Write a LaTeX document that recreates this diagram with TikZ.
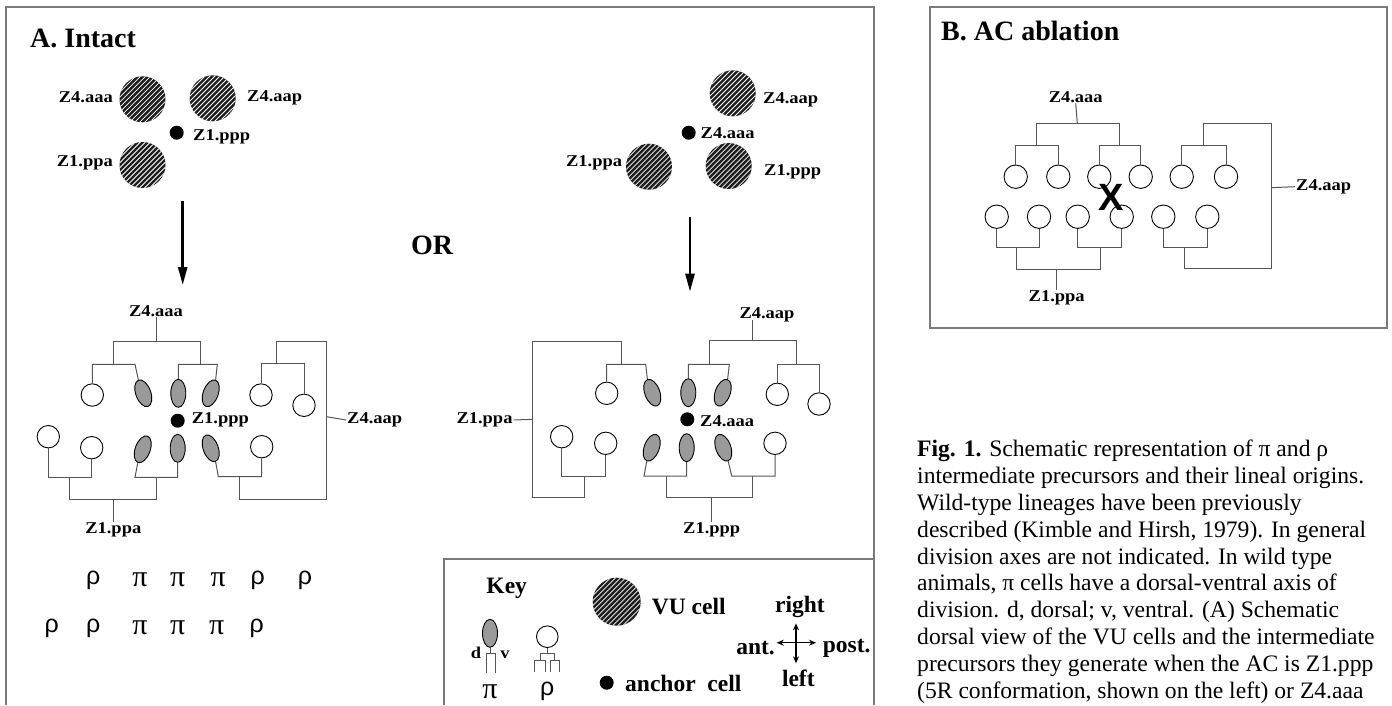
\documentclass[tikz,border=0pt]{standalone}
\usepackage{fontspec}
\setmainfont{Liberation Serif}
\setsansfont{Liberation Sans}
\newfontfamily\lblfont[FakeStretch=1.12]{Liberation Serif Bold}
\usetikzlibrary{arrows.meta,positioning,shapes.geometric}
\newcommand{\rhosym}{{\sffamily ρ}}
\newcommand{\pisym}{{\fontsize{30}{30}\selectfont π}}

\begin{document}
\begin{tikzpicture}[
		x=1pt, y=-1pt,
		>=Stealth,
		% lines
		frame/.style={draw=frameColor, line width=1.3pt},
		tree/.style={draw=treeColor, line width=1pt},
		downarrow/.style={-{Triangle[length=18pt,width=9pt]}, line width=2.6pt},
		% cells
		vucell/.style={circle, minimum size=46pt, inner sep=0pt, fill=vuColor,
			path picture={\foreach \k in {-60,-55,...,60}
				\draw[white, line width=0.75pt] ([xshift=\k pt-40pt, yshift=-40pt]path picture bounding box.center) -- ++(80pt,80pt);}},
		rhocell/.style={circle, draw=black, line width=0.9pt, fill=white, minimum size=22.4pt, inner sep=0pt},
		picell/.style={ellipse, draw=black, line width=0.9pt, fill=piColor, minimum width=15pt, minimum height=28pt, inner sep=0pt},
		acdot/.style={circle, fill=black, minimum size=14pt, inner sep=0pt},
		% texts
		lbl/.style={font=\lblfont\fontsize{16.5}{17}\selectfont, inner sep=1pt},
		keytxt/.style={font=\bfseries\fontsize{23.5}{25}\selectfont, inner sep=1pt},
		heading/.style={font=\bfseries\fontsize{28}{30}\selectfont, inner sep=0pt},
		greek/.style={font=\fontsize{25}{27}\selectfont, inner sep=0pt},
		caption/.style={align=left, font=\fontsize{23.6}{26.8}\selectfont, inner sep=0pt}
	]
	
	% Colors
	\definecolor{frameColor}{HTML}{7A7A7A}
	\definecolor{treeColor}{HTML}{555555}
	\definecolor{vuColor}{HTML}{1E1E1E}
	\definecolor{piColor}{HTML}{9A9A9A}
	
	\useasboundingbox (0,0) rectangle (1392,705);
	
	% Frames
	\draw[frame] (6,705) -- (6,7) -- (874,7) -- (874,705);
	\draw[frame] (444,705) -- (444,559) -- (874,559);
	\draw[frame] (930,7) rectangle (1387,328);
	
	% Headings
	\node[heading, anchor=base west] (titA) at (30,47.3) {A. Intact};
	\node[heading, anchor=base west] (titB) at (941,40) {B. AC ablation};
	\node[heading] (or) at (432,245) {OR};
	
	% ---------- A, 5R conformation (left) ----------
	\node[vucell] (av1) at (142.5,99.3) {};
	\node[vucell] (av2) at (212.7,98.3) {};
	\node[vucell] (av3) at (142.5,165) {};
	\node[acdot] (aac) at (176.7,132.7) {};
	\node[lbl, anchor=east] (lav1) at (114,97) {Z4.aaa};
	\node[lbl, anchor=west] (lav2) at (246,98) {Z4.aap};
	\node[lbl, anchor=west] (laac) at (192,137) {Z1.ppp};
	\node[lbl, anchor=east] (lav3) at (114,163) {Z1.ppa};
	
	\draw[downarrow] (182.7,201) -- (182.7,285);
	
	% cells of the left lineage
	\node[rhocell] (lc1) at (92.3,395) {};
	\node[picell, rotate=20] (le1) at (143.3,393.3) {};
	\node[picell] (le2) at (178.3,393.3) {};
	\node[picell, rotate=-20] (le3) at (210.7,393.3) {};
	\node[rhocell] (lc2) at (261,395) {};
	\node[rhocell] (lc3) at (304,405.3) {};
	\node[rhocell] (lc4) at (48.3,436.7) {};
	\node[rhocell] (lc5) at (91.7,447.7) {};
	\node[picell, rotate=-20] (le4) at (142.7,449.3) {};
	\node[picell] (le5) at (177.7,448.3) {};
	\node[picell, rotate=20] (le6) at (210.7,448.3) {};
	\node[rhocell] (lc6) at (261.7,446.7) {};
	\node[acdot] (lac) at (177.7,420.7) {};
	
	\node[lbl] (lz4aaa) at (156,310.7) {Z4.aaa};
	\node[lbl, anchor=west] (lz4aap) at (346,420) {Z4.aap};
	\node[lbl, anchor=west] (llac) at (190.7,420) {Z1.ppp};
	\node[lbl] (lz1ppa) at (113.3,530) {Z1.ppa};
	
	% Z4.aaa
	\draw[tree] (lc1.north) |- (135,364.3) -- (le1.north);
	\draw[tree] (le2.north) |- (217.3,364.3) -- (le3.north);
	\draw[tree] (113.3,364.3) |- (200,341) -- (200,364.3);
	\draw[tree] (156,341) -- (lz4aaa.south);
	% Z4.aap
	\draw[tree] (lc2.north) |- (304,363.3) -- (lc3.north);
	\draw[tree] (le6.south) -- (218.3,476.7) -| (lc6.south);
	\draw[tree] (239.3,476.7) |- (326.7,499) |- (276,341.7) -- (276,363.3);
	\draw[tree] (326.7,416.7) -- (lz4aap.west);
	% Z1.ppa
	\draw[tree] (lc4.south) |- (91.7,477.3) -- (lc5.south);
	\draw[tree] (le4.south) -- (135,477.3) -| (le5.south);
	\draw[tree] (69.3,477.3) |- (156.7,499) -- (156.7,477.3);
	\draw[tree] (113.3,499) -- (lz1ppa.north);
	
	% fates
	\foreach \x/\g [count=\i] in {93.3/\rhosym, 140/\pisym, 177.7/\pisym, 218.3/\pisym, 257.7/\rhosym, 305/\rhosym}
		\node[greek] (fa\i) at (\x,580) {\g};
	\foreach \x/\g [count=\i] in {51.7/\rhosym, 93.3/\rhosym, 140/\pisym, 177.7/\pisym, 216.7/\pisym, 256.7/\rhosym}
		\node[greek] (fb\i) at (\x,628) {\g};
	
	% ---------- A, 5L conformation (right) ----------
	\node[vucell] (rv1) at (732.7,93.3) {};
	\node[vucell] (rv2) at (649,166.7) {};
	\node[vucell] (rv3) at (728.7,166) {};
	\node[acdot] (rac) at (688.7,132.7) {};
	\node[lbl, anchor=west] (rlv1) at (762,100) {Z4.aap};
	\node[lbl, anchor=west] (rlac) at (699.5,133) {Z4.aaa};
	\node[lbl, anchor=east] (rlv2) at (623.3,163) {Z1.ppa};
	\node[lbl, anchor=west] (rlv3) at (763,172) {Z1.ppp};
	
	\draw[downarrow] (690,216.7) -- (690,291.7);
	
	\node[rhocell] (rc1) at (606.7,393.3) {};
	\node[picell, rotate=20] (re1) at (652.3,392.7) {};
	\node[picell] (re2) at (688.3,392.7) {};
	\node[picell, rotate=-20] (re3) at (722.7,392.7) {};
	\node[rhocell] (rc2) at (777.3,394.3) {};
	\node[rhocell] (rc3) at (819,404) {};
	\node[rhocell] (rc4) at (561.7,436.7) {};
	\node[rhocell] (rc5) at (605.7,443.3) {};
	\node[picell, rotate=-20] (re4) at (651.7,447.7) {};
	\node[picell] (re5) at (686.7,447.7) {};
	\node[picell, rotate=20] (re6) at (723.3,447.7) {};
	\node[rhocell] (rc6) at (775,443.3) {};
	\node[acdot] (rac2) at (687.3,419.3) {};
	
	\node[lbl] (rz4aap) at (767,315) {Z4.aap};
	\node[lbl, anchor=east] (rz1ppa) at (513.7,420) {Z1.ppa};
	\node[lbl, anchor=west] (rlac2) at (699,421) {Z4.aaa};
	\node[lbl] (rz1ppp) at (711.7,530) {Z1.ppp};
	
	% Z4.aap
	\draw[tree] (re2.north) |- (729.3,364.3) -- (re3.north);
	\draw[tree] (rc2.north) |- (819,364.3) -- (rc3.north);
	\draw[tree] (709.3,364.3) |- (796,340.7) -- (796,364.3);
	\draw[tree] (752.7,340.7) -- (752.7,320);
	% Z1.ppa
	\draw[tree] (rc1.north) |- (645.7,364.3) -- (re1.north);
	\draw[tree] (rc4.south) |- (605.7,476) -- (rc5.south);
	\draw[tree] (621.7,364.3) |- (532.7,341.7) |- (584,497.3) -- (584,476);
	\draw[tree] (532.7,419.3) -- (rz1ppa.east);
	% Z1.ppp
	\draw[tree] (re4.south) -- (644,476) -| (re5.south);
	\draw[tree] (re6.south) -- (731.7,476) -| (rc6.south);
	\draw[tree] (666.7,476) |- (752.7,497.3) -- (752.7,476);
	\draw[tree] (711.7,497.3) -- (rz1ppp.north);
	
	% ---------- Key ----------
	\node[keytxt] (key) at (506.7,588.3) {Key};
	\node[vucell, minimum size=48pt] (kvu) at (616.7,601.7) {};
	\node[keytxt, anchor=west] (kvut) at (650.7,606.7) {VU cell};
	\node[acdot] (kac) at (606.7,682.7) {};
	\node[keytxt, anchor=west] (kact) at (624,683.3) {anchor\ \ cell};
	
	\node[picell] (kpi) at (490,633.3) {};
	\draw[tree] (kpi.south) -- (490,653.3);
	\draw[tree] (486,673.3) |- (495,653.3) -- (495,673.3);
	\node[lbl] (kd) at (476,653) {d};
	\node[lbl] (kv) at (505,655) {v};
	\node[greek] (kpil) at (490,691.7) {\pisym};
	
	\node[rhocell, minimum size=21.6pt] (krho) at (547.3,636.7) {};
	\draw[tree] (krho.south) -- (547.3,653.3);
	\draw[tree] (540,660) |- (554,653.3) -- (554,660);
	\draw[tree] (534,671.7) |- (545,660) -- (545,671.7);
	\draw[tree] (550.7,671.7) |- (559.3,660) -- (559.3,671.7);
	\node[greek] (krhol) at (547.3,691.7) {\rhosym};
	
	% axes
	\coordinate (cN) at (796,623.3);
	\coordinate (cS) at (796,663.3);
	\coordinate (cW) at (776.7,642.7);
	\coordinate (cE) at (816,642.7);
	\draw[{Stealth[length=7pt,width=6pt]}-{Stealth[length=7pt,width=6pt]}, line width=1.2pt] (cN) -- (cS);
	\draw[{Stealth[length=7pt,width=6pt]}-{Stealth[length=7pt,width=6pt]}, line width=1.2pt] (cW) -- (cE);
	\node[keytxt] (kr) at (800,606.7) {right};
	\node[keytxt] (kl) at (798.3,678.3) {left};
	\node[keytxt, anchor=east] (ka) at (776,648.3) {ant.};
	\node[keytxt, anchor=west] (kp) at (821.7,648.3) {post.};
	
	% ---------- B, AC ablation ----------
	\foreach \x [count=\i] in {1015.7,1058.3,1099.3,1140.7,1181.7,1226}
		\node[rhocell, minimum size=23.4pt] (bc\i) at (\x,176.7) {};
	\foreach \x [count=\i from 7] in {996.7,1039,1077.7,1121.7,1163.3,1207.3}
		\node[rhocell, minimum size=23.4pt] (bc\i) at (\x,216.7) {};
	\node[font=\sffamily\bfseries\fontsize{38}{38}\selectfont, inner sep=0pt] (bx) at (1111,197) {X};
	
	\node[lbl] (bz4aaa) at (1075.7,96.7) {Z4.aaa};
	\node[lbl, anchor=west] (bz4aap) at (1295,186.7) {Z4.aap};
	\node[lbl] (bz1ppa) at (1056.7,298.3) {Z1.ppa};
	
	% Z4.aaa
	\draw[tree] (bc1.north) |- (1058.3,145.7) -- (bc2.north);
	\draw[tree] (bc3.north) |- (1140.7,145.7) -- (bc4.north);
	\draw[tree] (1036.7,145.7) |- (1119.3,123.3) -- (1119.3,145.7);
	\draw[tree] (1077.3,123.3) -- (bz4aaa.south);
	% Z4.aap
	\draw[tree] (bc5.north) |- (1226,145.7) -- (bc6.north);
	\draw[tree] (bc11.south) |- (1207.3,247.3) -- (bc12.south);
	\draw[tree] (1203.3,145.7) |- (1271,123.3) |- (1184.3,268.3) -- (1184.3,247.3);
	\draw[tree] (1271,187.7) -- (bz4aap.west);
	% Z1.ppa
	\draw[tree] (bc7.south) |- (1039,247.3) -- (bc8.south);
	\draw[tree] (bc9.south) |- (1121.7,247.3) -- (bc10.south);
	\draw[tree] (1016.7,247.3) |- (1100,269.3) -- (1100,247.3);
	\draw[tree] (1056.7,269.3) -- (bz1ppa.north);
	
	% ---------- Caption ----------
	\node[caption, anchor=north west] (cap) at (917,440) {\textbf{Fig. 1.} Schematic representation of π and ρ\\
		intermediate precursors and their lineal origins.\\
		Wild-type lineages have been previously\\
		described (Kimble and Hirsh, 1979). In general\\
		division axes are not indicated. In wild type\\
		animals, π cells have a dorsal-ventral axis of\\
		division. d, dorsal; v, ventral. (A) Schematic\\
		dorsal view of the VU cells and the intermediate\\
		precursors they generate when the AC is Z1.ppp\\
		(5R conformation, shown on the left) or Z4.aaa};
\end{tikzpicture}
\end{document}
